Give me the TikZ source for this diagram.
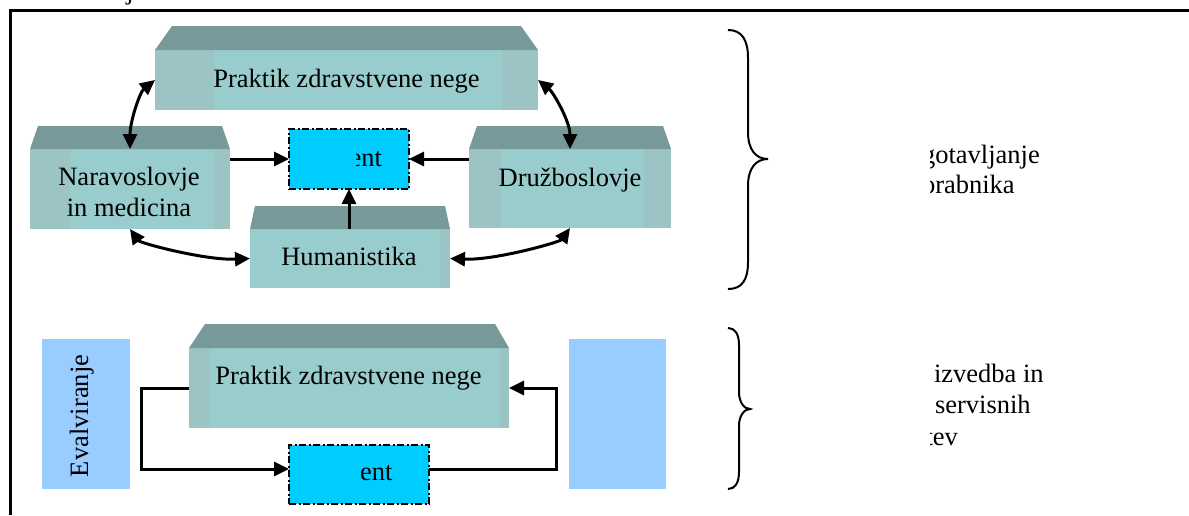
\documentclass[tikz,border=0pt]{standalone}
\usepackage{fontspec}
\setmainfont{Liberation Serif}
\usetikzlibrary{arrows.meta}
\definecolor{tealtop}{HTML}{779999}
\definecolor{tealfront}{HTML}{99CCCC}
\definecolor{tealband}{HTML}{9DC4C4}
\definecolor{cyanbox}{HTML}{00CCFF}
\definecolor{paleblue}{HTML}{99CCFF}
\begin{document}
\begin{tikzpicture}[x=1pt,y=-1pt,
  every node/.style={inner sep=0pt, outer sep=0pt, font=\fontsize{26.5}{31}\selectfont},
  front/.style={rectangle, fill=tealfront},
  topface/.style={fill=tealtop},
  band/.style={fill=tealband},
  centre/.style={rectangle, fill=cyanbox, draw=black, line width=2.3pt,
    dash pattern=on 7pt off 2.5pt on 2pt off 2.5pt},
  pale/.style={rectangle, fill=paleblue},
  tip/.tip={Triangle[length=15pt,width=14pt]},
  conn/.style={line width=3pt, -tip},
  both/.style={line width=3pt, tip-tip},
  brace/.style={line width=2pt},
  lbl/.style={anchor=base, text=black},
]
\useasboundingbox (0,0) rectangle (1189,515);

% frame
\draw[line width=3pt] (10,515) -- (10,10.5) -- (1189,10.5);
\node[anchor=base] (jfrag) at (130,-0.5) {j};

% ---------- upper block: 3D boxes ----------
% Praktik zdravstvene nege
\node[front, minimum width=383pt, minimum height=60pt] (prak) at (346.5,80) {};
\fill[band] (155,50) rectangle (214,110);
\fill[band] (502,50) rectangle (538,110);
\fill[topface] (155,50) -- (172,26) -- (521,26) -- (538,50) -- cycle;
\node[lbl] (prakT) at (346.5,87) {Praktik zdravstvene nege};

% Naravoslovje in medicina
\node[front, minimum width=200pt, minimum height=80pt] (nara) at (130,189) {};
\fill[band] (30,149) rectangle (70,229);
\fill[band] (213.5,149) rectangle (230,229);
\fill[topface] (30,149) -- (38,126) -- (222,126) -- (230,149) -- cycle;
\node[lbl] (naraT1) at (129,185) {Naravoslovje};
\node[lbl] (naraT2) at (129,216) {in medicina};

% Druzboslovje
\node[front, minimum width=202pt, minimum height=79pt] (druz) at (570,188.5) {};
\fill[band] (469,149) rectangle (501,228);
\fill[band] (644,149) rectangle (671,228);
\fill[topface] (469,149) -- (477,126) -- (663,126) -- (671,149) -- cycle;
\node[lbl] (druzT) at (570,186) {Družboslovje};

% Humanistika
\node[front, minimum width=200pt, minimum height=59pt] (human) at (350,258.5) {};
\fill[band] (440,229) rectangle (450,288);
\fill[topface] (250,229) -- (255,206) -- (445,206) -- (450,229) -- cycle;
\node[lbl] (humanT) at (349,265) {Humanistika};

% centre box
\node[centre, minimum width=120pt, minimum height=60pt] (cent) at (349,159) {};
\begin{scope}
  \clip (356.7,130) rectangle (408,188);
  \node[anchor=base east] (centT) at (382,166) {ent};
\end{scope}

% upper connectors
\draw[conn] (nara.east |- cent.west) -- (cent.west);
\draw[conn] (druz.west |- cent.east) -- (cent.east);
\draw[conn] (cent.south |- human.north) -- (cent.south);
\draw[both] (prak.west) .. controls +(-15,12) and +(0,-28) .. (nara.north);
\draw[both] (prak.east) .. controls +(15,12) and +(0,-28) .. (druz.north);
\draw[both] (nara.south) .. controls +(10,14) and +(-45,2) .. (human.west);
\draw[both] (druz.south) .. controls +(-10,14) and +(45,2) .. (human.east);

% ---------- lower block ----------
\node[pale, minimum width=88pt, minimum height=150pt] (eval) at (86,414) {};
\node[anchor=base west, rotate=90] (evalT) at (88,477) {Evalviranje};
\node[pale, minimum width=97pt, minimum height=150pt] (rpale) at (617.5,414) {};

% Praktik zdravstvene nege (lower)
\node[front, minimum width=320pt, minimum height=80pt] (prak2) at (349,388) {};
\fill[band] (189,348) rectangle (210,428);
\fill[band] (500,348) rectangle (509,428);
\fill[topface] (189,348) -- (205,324) -- (495,324) -- (509,348) -- cycle;
\node[lbl] (prak2T) at (348.5,384.3) {Praktik zdravstvene nege};

\node[centre, minimum width=140pt, minimum height=59pt] (ent2) at (359,474.5) {};
\node[anchor=base west] (ent2T) at (360,480) {ent};

\coordinate (lx) at (141,469);
\coordinate (rx) at (556,469);
\draw[conn] (prak2.west) -| (lx) -- (lx -| ent2.west);
\draw[conn] (rx -| ent2.east) -- (rx) |- (prak2.east);

% ---------- braces ----------
\draw[brace] (728,30) .. controls (742,30) and (748,40) .. (748,58) -- (748,132)
  .. controls (748,150) and (756,159) .. (768,159)
  .. controls (756,159) and (748,168) .. (748,186) -- (748,262)
  .. controls (748,280) and (742,289) .. (728,289);
\draw[brace] (728,328) .. controls (735,328) and (739,334) .. (739,345) -- (739,392)
  .. controls (739,402) and (744,409) .. (750,409)
  .. controls (744,409) and (739,416) .. (739,426) -- (739,472)
  .. controls (739,483) and (735,489) .. (728,489);

% ---------- side texts ----------
\begin{scope}
  \clip (930,120) rectangle (1100,470);
  \node[anchor=base west] (r1) at (922,163.3) {gotavljanje};
  \node[anchor=base west] (r2) at (922,193.3) {orabnika};
  \node[anchor=base west] (r3) at (934,382.3) {izvedba in};
  \node[anchor=base west] (r4) at (935,413.3) {servisnih};
  \node[anchor=base west] (r5) at (925.5,445.7) {tev};
\end{scope}
\end{tikzpicture}
\end{document}
